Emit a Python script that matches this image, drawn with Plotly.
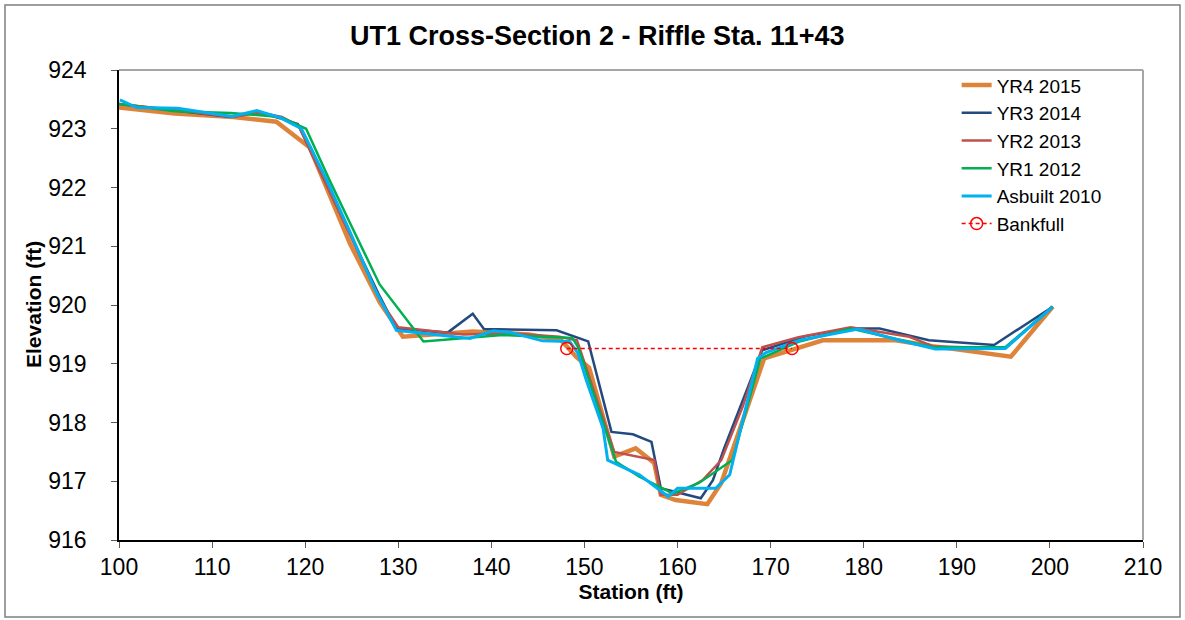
import plotly.graph_objects as go

# Station (ft) / elevation (ft)
yr4_sta = [100, 106, 112.3, 116.9, 120.5, 124.8, 128, 130.5, 138, 144, 147.5, 149.1, 150.5,
           153.2, 155.5, 157.5, 158.2, 159.8, 163.2, 164.7, 169.3, 175.6, 183.4, 187.4, 195.8, 200.3]
yr4_elev = [923.36, 923.26, 923.2, 923.12, 922.68, 921.05, 920.05, 919.46, 919.55, 919.5, 919.4, 919.12, 918.93,
            917.42, 917.56, 917.31, 916.77, 916.68, 916.61, 916.97, 919.09, 919.4, 919.4, 919.3, 919.12, 919.97]

yr3_sta = [100, 106.5, 112, 115, 117.3, 119.2, 124.8, 128, 129.8, 135.3, 138.0, 139.2, 147.0, 150.4,
           152.9, 155.2, 157.2, 158.2, 162.5, 163.8, 165.0, 169.1, 173.8, 178.4, 181.7, 187.0, 194.0, 200.3]
yr3_elev = [923.42, 923.3, 923.2, 923.28, 923.18, 923.08, 921.2, 920.15, 919.6, 919.53, 919.85, 919.59, 919.57, 919.38,
            917.84, 917.8, 917.67, 916.88, 916.71, 917.02, 917.56, 919.23, 919.47, 919.6, 919.6, 919.4, 919.32, 919.97]

yr2_sta = [100, 106, 112.3, 115, 117.5, 119.3, 124.8, 128, 130, 137, 142, 147.3, 149.2, 152.3,
           153.2, 157.5, 158.2, 160, 162.7, 164.7, 165.9, 167.0, 169.1, 173, 178.6, 184.9, 187.4, 195.2, 200.3]
yr2_elev = [923.42, 923.32, 923.2, 923.28, 923.2, 923.05, 921.2, 920.1, 919.62, 919.5, 919.52, 919.46, 919.4, 917.9,
            917.5, 917.36, 916.77, 916.77, 917.02, 917.36, 917.84, 918.27, 919.28, 919.45, 919.62, 919.46, 919.3, 919.26, 919.97]

yr1_sta = [100, 106, 112, 114.4, 117.3, 120.1, 122.6, 124.8, 128, 132.7, 141.2, 148.7, 149.3, 153.4,
           155.9, 159.5, 162.3, 165.9, 168.9, 173.1, 178.6, 187.4, 195.2, 200.3]
yr1_elev = [923.42, 923.3, 923.27, 923.24, 923.2, 923.0, 922.13, 921.4, 920.35, 919.38, 919.49, 919.44, 919.29, 917.33,
            917.08, 916.79, 916.97, 917.36, 919.09, 919.38, 919.6, 919.28, 919.28, 919.97]

asb_sta = [100.1, 101.9, 106.3, 112.1, 114.8, 117.3, 119.6, 122.3, 124.8, 127.5, 129.8, 137.7, 140.2, 142.1,
           145.5, 148.4, 149.3, 150.2, 152.0, 152.5, 153.2, 155.9, 159.0, 160.0, 164.1, 165.6, 168.6, 169.5,
           173.1, 179.4, 183.8, 187.7, 195.2, 200.3]
asb_elev = [923.49, 923.36, 923.35, 923.21, 923.31, 923.19, 923.0, 922.13, 921.25, 920.26, 919.57, 919.43, 919.56, 919.53,
            919.39, 919.38, 919.18, 918.72, 917.9, 917.36, 917.31, 917.11, 916.74, 916.88, 916.88, 917.11, 919.09, 919.19,
            919.4, 919.59, 919.4, 919.25, 919.26, 919.97]

bkf_sta = [148.1, 172.3]
bkf_elev = [919.26, 919.26]

FONT = "Liberation Sans, Arial, sans-serif"

series = [
    ("YR4 2015", yr4_sta, yr4_elev, "#DD843A", 4.5),
    ("YR3 2014", yr3_sta, yr3_elev, "#234A7E", 2.5),
    ("YR2 2013", yr2_sta, yr2_elev, "#C0504D", 2.5),
    ("YR1 2012", yr1_sta, yr1_elev, "#00B050", 2.5),
    ("Asbuilt 2010", asb_sta, asb_elev, "#00B0F0", 3),
]

fig = go.Figure()
for name, sta, elev, color, width in series:
    fig.add_trace(go.Scatter(x=sta, y=elev, mode="lines", name=name,
                             line=dict(color=color, width=width)))

fig.add_trace(go.Scatter(
    x=bkf_sta, y=bkf_elev, mode="lines+markers", name="Bankfull",
    line=dict(color="#FF0000", width=1.5, dash="4px,3px"),
    marker=dict(symbol="circle-open", size=12, color="#FF0000", line=dict(width=1.5))
))

# top/right border of the plot area (gray), outer chart border
fig.add_shape(type="line", xref="paper", yref="paper", x0=0, x1=1, y0=1, y1=1,
              line=dict(color="#A6A6A6", width=2))
fig.add_shape(type="line", xref="paper", yref="paper", x0=1, x1=1, y0=0, y1=1,
              line=dict(color="#A6A6A6", width=2))
fig.add_shape(type="rect", xref="paper", yref="paper",
              x0=(5 - 119) / 1024, x1=(1180 - 119) / 1024,
              y0=(540 - 617) / 470, y1=(540 - 5) / 470,
              line=dict(color="#7F7F7F", width=1.5), layer="below")

# y axis title placed by hand
fig.add_annotation(text="<b>Elevation (ft)</b>", xref="paper", yref="paper",
                   x=(33 - 119) / 1024, y=0.5, textangle=-90, showarrow=False,
                   xanchor="center", yanchor="middle",
                   font=dict(size=21, family=FONT, color="black"))

fig.update_layout(
    width=1185, height=620,
    margin=dict(l=119, r=42, t=70, b=80),
    paper_bgcolor="white", plot_bgcolor="white",
    font=dict(family=FONT, color="black"),
    title=dict(text="<b>UT1 Cross-Section 2 - Riffle Sta. 11+43</b>",
               x=0.504, xref="container", xanchor="center",
               y=0.942, yref="container", yanchor="middle",
               font=dict(size=27, family=FONT)),
    legend=dict(x=0.818, y=1.008, xanchor="left", yanchor="top",
                bgcolor="rgba(0,0,0,0)", font=dict(size=19, family=FONT),
                tracegroupgap=0),
    showlegend=True,
)

fig.update_xaxes(
    range=[100, 210], dtick=10, tick0=100,
    showgrid=False, zeroline=False,
    showline=True, linecolor="black", linewidth=1.5,
    ticks="outside", ticklen=6, tickcolor="#595959",
    tickfont=dict(size=23, family=FONT),
    title=dict(text="<b>Station (ft)</b>", font=dict(size=21, family=FONT), standoff=5),
)
fig.update_yaxes(
    range=[916, 924], dtick=1,
    showgrid=False, zeroline=False,
    showline=True, linecolor="black", linewidth=1.5,
    ticks="outside", ticklen=6, tickcolor="#595959",
    tickfont=dict(size=23, family=FONT),
    ticklabelstandoff=20,
)

fig.write_html("out.html", config={"displayModeBar": False},
               post_script="document.body.style.margin='0';")
